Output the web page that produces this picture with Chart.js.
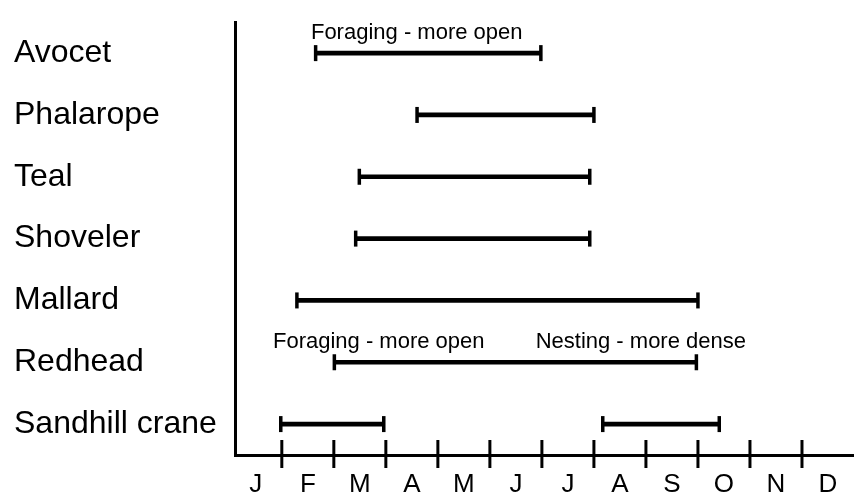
<!DOCTYPE html>
<html>
<head>
<meta charset="utf-8">
<script src="https://cdn.jsdelivr.net/npm/chart.js@4"></script>
<style>
  html, body { margin: 0; padding: 0; background: #fff; }
  #wrap { width: 854px; height: 503px; }
</style>
</head>
<body>
<div id="wrap"><canvas id="habitatChart"></canvas></div>
<script>
// rows and months
const species = ['Avocet', 'Phalarope', 'Teal', 'Shoveler', 'Mallard', 'Redhead', 'Sandhill crane'];
const months = ['J', 'F', 'M', 'A', 'M', 'J', 'J', 'A', 'S', 'O', 'N', 'D'];

// period of use, in months from 1 January
const useStart = [1.65, 3.6, 2.49, 2.42, 1.29, 2.01, 0.98];
const useEnd = [5.98, 7.0, 6.92, 6.92, 9.0, 8.97, 2.96];
// sandhill crane comes back later in the year
const lateStart = [null, null, null, null, null, null, 7.17];
const lateEnd = [null, null, null, null, null, null, 9.41];

// notes written over some of the periods
const noteTexts = ['Foraging - more open', 'Foraging - more open', 'Nesting - more dense'];
const noteRows = ['Avocet', 'Redhead', 'Redhead'];
const noteMonths = [1.56, 0.83, 5.88];

const ink = '#000';
const fontFamily = "'Liberation Sans', Arial, sans-serif";

// end caps on each period and month boundary marks on the x axis
const marksPlugin = {
  id: 'marks',
  afterDatasetsDraw(chart) {
    const c = chart.ctx;
    c.save();
    c.strokeStyle = ink;
    c.lineWidth = 3.5;
    chart.data.datasets.forEach((ds, i) => {
      chart.getDatasetMeta(i).data.forEach((bar, j) => {
        if (ds.data[j] === null) return;
        const p = bar.getProps(['x', 'y', 'base']);
        [p.x, p.base].forEach(px => {
          c.beginPath();
          c.moveTo(px, p.y - 8);
          c.lineTo(px, p.y + 8);
          c.stroke();
        });
      });
    });

    const xs = chart.scales.x;
    c.lineWidth = 3;
    for (let m = 1; m < months.length; m++) {
      const px = xs.getPixelForValue(m);
      c.beginPath();
      c.moveTo(px, xs.top - 15);
      c.lineTo(px, xs.top + 13);
      c.stroke();
    }

    // notes
    const ys = chart.scales.y;
    c.fillStyle = ink;
    c.font = '22px ' + fontFamily;
    c.textAlign = 'left';
    c.textBaseline = 'middle';
    noteTexts.forEach((t, i) => {
      const px = xs.getPixelForValue(noteMonths[i]);
      const py = ys.getPixelForValue(species.indexOf(noteRows[i]));
      c.fillText(t, px, py - 20);
    });
    c.restore();
  }
};

const ctx = document.getElementById('habitatChart').getContext('2d');
new Chart(ctx, {
  type: 'bar',
  data: {
    labels: species,
    datasets: [
      {
        data: useStart.map((s, i) => [s, useEnd[i]]),
        backgroundColor: ink,
        barThickness: 4,
        grouped: false
      },
      {
        data: lateStart.map((s, i) => (s === null ? null : [s, lateEnd[i]])),
        backgroundColor: ink,
        barThickness: 4,
        grouped: false
      }
    ]
  },
  options: {
    indexAxis: 'y',
    responsive: true,
    maintainAspectRatio: false,
    animation: false,
    layout: { padding: { top: 15, left: 14, right: 0, bottom: 0 } },
    plugins: {
      legend: { display: false },
      tooltip: { enabled: false }
    },
    scales: {
      x: {
        type: 'linear',
        min: 0.1,
        max: 12,
        grid: { display: false },
        border: { display: true, color: ink, width: 3 },
        afterBuildTicks: scale => {
          scale.ticks = months.map((m, i) => ({ value: i + 0.5 }));
        },
        afterFit: scale => { scale.height = 48; },
        ticks: {
          color: ink,
          padding: 6,
          autoSkip: false,
          maxRotation: 0,
          font: { size: 26, family: fontFamily },
          callback: (value, index) => months[index]
        }
      },
      y: {
        type: 'category',
        offset: true,
        grid: { display: false },
        border: { display: true, color: ink, width: 3 },
        afterFit: scale => { scale.width = 221; },
        ticks: {
          color: ink,
          crossAlign: 'far',
          font: { size: 32, family: fontFamily }
        }
      }
    }
  },
  plugins: [marksPlugin]
});
</script>
</body>
</html>
